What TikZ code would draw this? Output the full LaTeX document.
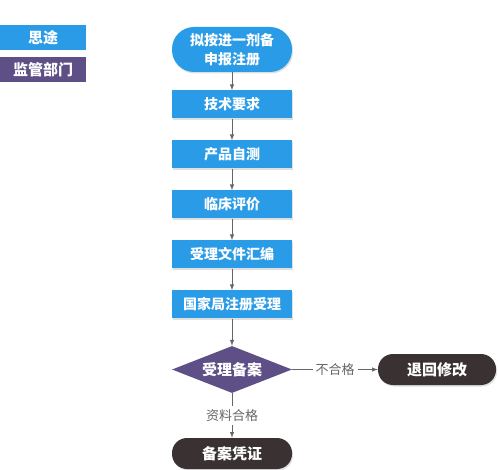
\documentclass[tikz,border=0pt]{standalone}
\usepackage{fontspec}
\setmainfont{Noto Sans CJK SC}
\usetikzlibrary{arrows,shapes,positioning,shadows}
\definecolor{stblue}{HTML}{2A9BE6}
\definecolor{stpurple}{HTML}{5E4F86}
\definecolor{stdark}{HTML}{3A3232}
\definecolor{stgray}{HTML}{666666}
\tikzstyle{brick} = [rectangle, minimum width = 120pt, minimum height = 28pt, text centered, fill = stblue, text = white, font = \bfseries\fontsize{14}{16}\selectfont, drop shadow = {opacity = 0.25, shadow xshift = 1pt, shadow yshift = -1.5pt}]
\tikzstyle{pill} = [brick, rounded corners = 15pt, minimum height = 31pt, fill = stdark, font = \bfseries\fontsize{15}{17}\selectfont]
\tikzstyle{legend} = [rectangle, minimum width = 86pt, minimum height = 25pt, text = white, font = \bfseries\fontsize{15}{17}\selectfont]
\tikzstyle{flow} = [draw = stgray, line width = 1pt, -latex]
\tikzstyle{verdict} = [fill = white, text = stgray, font = \fontsize{13}{15}\selectfont, inner sep = 3pt]

\begin{document}
\begin{tikzpicture}[node distance = 50pt]
        \useasboundingbox (0pt,0pt) rectangle (498pt,-470pt);
        % legend
        \node (us)  [legend, fill = stblue]   at (43pt,-37.5pt) {思途};
        \node (gov) [legend, fill = stpurple] at (43pt,-70pt) {监管部门};
        % main flow
        \node (start) [brick, rounded corners = 22pt, minimum height = 45pt, align = center, font = \bfseries\fontsize{14}{19}\selectfont] at (232pt,-49.5pt) {拟按进一剂备\\申报注册};
        \node (req)  [brick, below of = start, node distance = 55pt] {技术要求};
        \node (test) [brick, below of = req] {产品自测};
        \node (clin) [brick, below of = test] {临床评价};
        \node (docs) [brick, below of = clin] {受理文件汇编};
        \node (nmpa) [brick, below of = docs] {国家局注册受理};
        \node (check) [diamond, aspect = 2.6, inner sep = 0pt, minimum width = 120pt, minimum height = 47pt, fill = stpurple, text = white, font = \bfseries\fontsize{15}{17}\selectfont, below of = nmpa, node distance = 65pt] {受理备案};
        \node (back) [pill, minimum width = 118pt, right of = check, node distance = 205pt] {退回修改};
        \node (cert) [pill, below of = check, node distance = 84pt] {备案凭证};
        \draw [flow] (start) -- (req);
        \draw [flow] (req) -- (test);
        \draw [flow] (test) -- (clin);
        \draw [flow] (clin) -- (docs);
        \draw [flow] (docs) -- (nmpa);
        \draw [flow] (nmpa) -- (check);
        \draw [flow] (check) -- node[verdict]{不合格} (back);
        \draw [flow] (check) -- node[verdict, pos = .5]{资料合格} (cert);
    \end{tikzpicture}
\end{document}
